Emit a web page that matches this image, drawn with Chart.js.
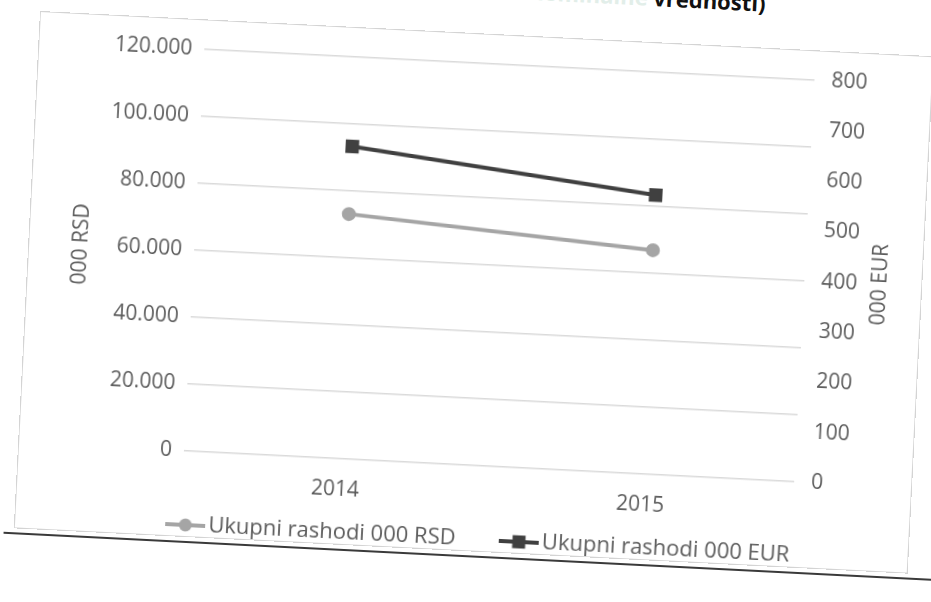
<!DOCTYPE html>
<html>
<head>
<meta charset="utf-8">
<script src="https://cdn.jsdelivr.net/npm/chart.js@4.4.1/dist/chart.umd.min.js"></script>
<style>
  html, body { margin: 0; padding: 0; background: #fff; overflow: hidden; }
  body { width: 931px; height: 602px; position: relative; }
  #sheet { position: absolute; left: 40px; top: 11px; width: 895px; height: 548px; transform-origin: 0 0; transform: rotate(2.9deg); }
  #frame { position: absolute; left: 0; top: 0; width: 895px; height: 518px; box-sizing: border-box; border: 1px solid #d4d4d4; pointer-events: none; }
  #edge { position: absolute; left: -10px; top: 522px; width: 960px; height: 2px; background: #3a3a3a; }
  #heading { position: absolute; left: 488px; top: -56px; font: bold 22px 'Open Sans'; line-height: 1; white-space: nowrap; }
  #heading .pale { color: #e2eee9; }
  #heading .dark { color: #111; }
  canvas { position: absolute; left: 0; top: 0; }
</style>
</head>
<body>
<div id="sheet">
  <div id="heading"><span class="pale">nominalne </span><span class="dark">vrednosti)</span></div>
  <canvas id="chart" width="895" height="548"></canvas>
  <div id="frame"></div>
  <div id="edge"></div>
</div>
<script>
const years = ['2014', '2015'];
const rsdValues = [73000, 66800];
const eurValues = [621, 555];
const rsdTicks = [0, 20000, 40000, 60000, 80000, 100000, 120000];
const eurTicks = [0, 100, 200, 300, 400, 500, 600, 700, 800];
const seriesNames = ['Ukupni rashodi 000 RSD', 'Ukupni rashodi 000 EUR'];
const axisTitles = ['000 RSD', '000 EUR'];

const rsdColour = '#a5a5a5';
const eurColour = '#404040';
const textColour = '#5c5c5c';
const gridColour = '#dadada';
const labelFont = { family: "'Open Sans'", size: 21 };
const legendFont = { family: "'Open Sans'", size: 22 };

function thousands(v) {
    return String(v).replace(/\B(?=(\d{3})+(?!\d))/g, '.');
}

// line + marker swatch like the excel legend
function legendSwatch(colour, shape) {
    const c = document.createElement('canvas');
    c.width = 40;
    c.height = 16;
    const ctx = c.getContext('2d');
    ctx.strokeStyle = colour;
    ctx.fillStyle = colour;
    ctx.lineWidth = 4;
    ctx.beginPath();
    ctx.moveTo(0, 8);
    ctx.lineTo(40, 8);
    ctx.stroke();
    if (shape === 'circle') {
        ctx.beginPath();
        ctx.arc(20, 8, 6.5, 0, Math.PI * 2);
        ctx.fill();
    } else {
        ctx.fillRect(13.5, 1.5, 13, 13);
    }
    return c;
}

const swatches = [legendSwatch(rsdColour, 'circle'), legendSwatch(eurColour, 'rect')];

const rightTitle = {
    id: 'rightTitle',
    afterDraw(chart) {
        const s = chart.scales.y1;
        const ctx = chart.ctx;
        ctx.save();
        ctx.translate(s.left + 76, (s.top + s.bottom) / 2);
        ctx.rotate(-Math.PI / 2);
        ctx.font = "21px 'Open Sans'";
        ctx.fillStyle = textColour;
        ctx.textAlign = 'center';
        ctx.textBaseline = 'middle';
        ctx.fillText(axisTitles[1], 0, 0);
        ctx.restore();
    }
};

new Chart(document.getElementById('chart'), {
    type: 'line',
    data: {
        labels: years,
        datasets: [
            {
                label: seriesNames[0],
                data: rsdValues,
                yAxisID: 'y',
                borderColor: rsdColour,
                backgroundColor: rsdColour,
                borderWidth: 4,
                pointStyle: 'circle',
                pointRadius: 6,
                pointBorderWidth: 2,
                pointBackgroundColor: rsdColour,
                pointBorderColor: rsdColour
            },
            {
                label: seriesNames[1],
                data: eurValues,
                yAxisID: 'y1',
                borderColor: eurColour,
                backgroundColor: eurColour,
                borderWidth: 4,
                pointStyle: 'rect',
                pointRadius: 9.5,
                pointBorderWidth: 0,
                pointBackgroundColor: eurColour
            }
        ]
    },
    options: {
        responsive: false,
        animation: false,
        layout: { padding: { top: 18, left: 40, right: 0, bottom: 21 } },
        plugins: {
            title: { display: false },
            tooltip: { enabled: false },
            legend: {
                position: 'bottom',
                labels: {
                    usePointStyle: true,
                    pointStyleWidth: 24,
                    padding: 0,
                    color: textColour,
                    font: legendFont,
                    generateLabels: chart => Chart.defaults.plugins.legend.labels.generateLabels(chart).map((item, i) => {
                        item.pointStyle = swatches[i];
                        // room between the two items
                        if (i === 0) item.text += '         ';
                        return item;
                    })
                }
            }
        },
        scales: {
            x: {
                offset: true,
                grid: { display: false, drawTicks: false },
                border: { display: false },
                ticks: { padding: 19, autoSkip: false, maxRotation: 0, color: textColour, font: labelFont }
            },
            y: {
                position: 'left',
                min: 0,
                max: 120000,
                afterBuildTicks: s => { s.ticks = rsdTicks.map(v => ({ value: v })); },
                ticks: { padding: 12, color: textColour, font: labelFont, callback: v => thousands(v) },
                grid: { color: gridColour, lineWidth: 1.5, drawTicks: false },
                border: { display: false },
                title: { display: true, text: axisTitles[0], padding: 0, color: textColour, font: labelFont },
                afterFit: s => { s.width = 126; }
            },
            y1: {
                position: 'right',
                min: 0,
                max: 800,
                afterBuildTicks: s => { s.ticks = eurTicks.map(v => ({ value: v })); },
                ticks: { padding: 17, color: textColour, font: labelFont },
                grid: { display: false, drawTicks: false },
                border: { display: false },
                afterFit: s => { s.width = 118; }
            }
        }
    },
    plugins: [rightTitle]
});
</script>
</body>
</html>
